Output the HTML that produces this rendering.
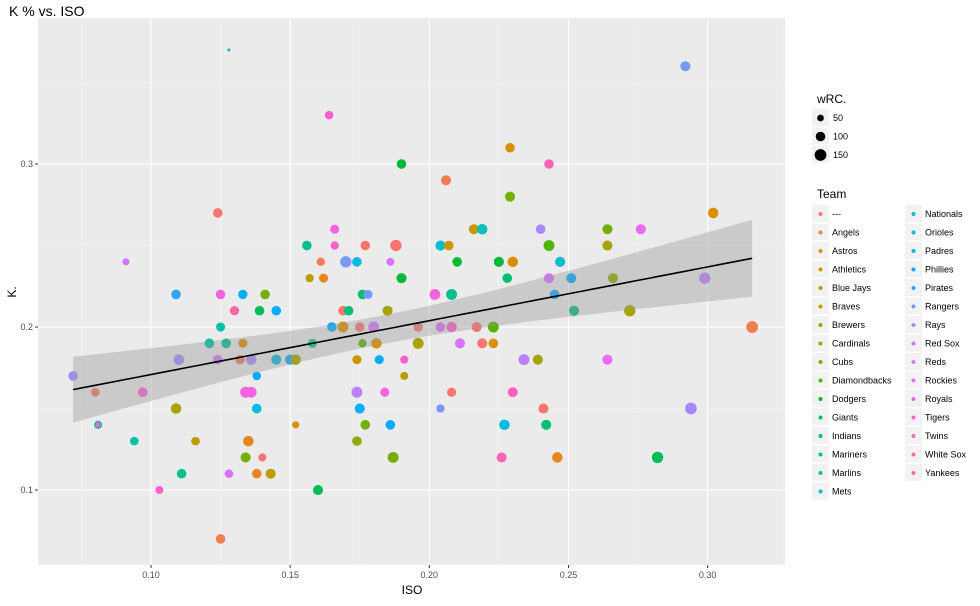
<!DOCTYPE html>
<html><head><meta charset="utf-8">
<style>
html,body{margin:0;padding:0;background:#fff;}
body{width:980px;height:601px;overflow:hidden;font-family:"Liberation Sans",Arial,sans-serif;}
svg text{font-family:"Liberation Sans",Arial,sans-serif;}
</style></head>
<body>
<svg id="chart" width="980" height="601" xmlns="http://www.w3.org/2000/svg">
  <text x="9" y="16" font-size="14" fill="#000">K % vs. ISO</text>
  <g id="panel"></g>
  <text x="412" y="594" font-size="12" text-anchor="middle" fill="#000">ISO</text>
  <text transform="translate(16,292) rotate(-90)" font-size="12" text-anchor="middle" fill="#000">K.</text>
  <g id="legend"></g>
</svg>
<script>
const teams = ["---","Angels","Astros","Athletics","Blue Jays","Braves","Brewers","Cardinals","Cubs","Diamondbacks","Dodgers","Giants","Indians","Mariners","Marlins","Mets","Nationals","Orioles","Padres","Phillies","Pirates","Rangers","Rays","Red Sox","Reds","Rockies","Royals","Tigers","Twins","White Sox","Yankees"];
const teamColors = ["#F8766D","#F17D50","#E7851E","#DA8F00","#CA9700","#BA9E00","#A6A400","#8FAA00","#75AF00","#52B500","#00B934","#00BC56","#00BE73","#00C08D","#00C0A5","#00C0BA","#00BDCD","#00BAE0","#00B4EF","#00ACFC","#34A2FF","#7997FF","#A58AFF","#BF80FF","#D575FE","#E76BF3","#F663DE","#FC61CD","#FF62B9","#FF66A6","#FC6E8A"];
const iso = [0.124,0.091,0.109,0.125,0.133,0.141,0.130,0.139,0.145,0.125,0.121,0.127,0.133,0.110,0.124,0.132,0.136,0.145,0.150,0.152,0.072,0.138,0.080,0.097,0.134,0.136,0.109,0.138,0.081,0.081,0.094,0.116,0.135,0.134,0.140,0.111,0.128,0.138,0.143,0.103,0.125,0.152,0.128,0.190,0.206,0.229,0.229,0.164,0.166,0.216,0.219,0.156,0.166,0.177,0.188,0.204,0.207,0.161,0.170,0.174,0.186,0.210,0.225,0.230,0.157,0.162,0.190,0.228,0.176,0.178,0.202,0.208,0.169,0.171,0.185,0.165,0.169,0.175,0.180,0.196,0.204,0.208,0.217,0.223,0.158,0.176,0.181,0.196,0.211,0.219,0.223,0.174,0.182,0.191,0.234,0.239,0.191,0.174,0.184,0.208,0.230,0.175,0.204,0.177,0.186,0.227,0.174,0.187,0.226,0.160,0.243,0.302,0.240,0.264,0.276,0.243,0.264,0.247,0.243,0.251,0.266,0.299,0.245,0.252,0.272,0.316,0.264,0.241,0.294,0.242,0.246,0.282,0.292];
const kpct = [0.27,0.24,0.22,0.22,0.22,0.22,0.21,0.21,0.21,0.20,0.19,0.19,0.19,0.18,0.18,0.18,0.18,0.18,0.18,0.18,0.17,0.17,0.16,0.16,0.16,0.16,0.15,0.15,0.14,0.14,0.13,0.13,0.13,0.12,0.12,0.11,0.11,0.11,0.11,0.10,0.07,0.14,0.37,0.30,0.29,0.31,0.28,0.33,0.26,0.26,0.26,0.25,0.25,0.25,0.25,0.25,0.25,0.24,0.24,0.24,0.24,0.24,0.24,0.24,0.23,0.23,0.23,0.23,0.22,0.22,0.22,0.22,0.21,0.21,0.21,0.20,0.20,0.20,0.20,0.20,0.20,0.20,0.20,0.20,0.19,0.19,0.19,0.19,0.19,0.19,0.19,0.18,0.18,0.18,0.18,0.18,0.17,0.16,0.16,0.16,0.16,0.15,0.15,0.14,0.14,0.14,0.13,0.12,0.12,0.10,0.30,0.27,0.26,0.26,0.26,0.25,0.25,0.24,0.23,0.23,0.23,0.23,0.22,0.21,0.21,0.20,0.18,0.15,0.15,0.14,0.12,0.12,0.36];
const wrc = [100,55,100,100,95,100,95,100,100,90,100,100,90,125,100,100,120,110,110,120,100,80,80,100,130,130,120,100,70,30,80,80,120,110,70,100,80,100,110,70,100,55,10,100,110,100,110,80,90,110,120,100,75,100,140,110,100,75,140,100,70,100,110,120,75,90,110,100,100,90,130,130,100,100,110,100,130,100,130,100,100,120,110,130,90,75,120,130,110,110,100,90,90,75,130,110,70,130,90,90,110,110,75,100,100,120,100,130,110,110,100,120,100,110,110,130,110,110,110,110,110,140,100,110,140,150,110,110,150,110,120,140,110];
const team = [0,24,20,26,19,8,29,11,19,14,14,13,3,22,24,0,22,17,19,6,22,19,0,27,26,26,6,17,14,26,14,5,2,8,0,13,24,2,5,27,1,3,16,10,1,3,8,27,26,4,15,13,27,0,0,16,4,1,21,17,24,10,10,3,5,2,10,12,12,21,26,13,0,12,6,19,3,0,24,0,25,27,0,9,13,9,3,6,24,0,3,4,19,27,23,6,5,23,26,0,28,19,21,8,19,17,7,8,28,11,28,3,22,8,25,9,6,16,24,19,7,23,19,12,6,1,25,0,22,12,2,11,21];
const xTicks = [0.10,0.15,0.20,0.25,0.30];
const xTickLabels = ["0.10","0.15","0.20","0.25","0.30"];
const yTicks = [0.1,0.2,0.3];
const yTickLabels = ["0.1","0.2","0.3"];
const sizeBreaks = [50,100,150];

const NS="http://www.w3.org/2000/svg";
const P={l:38,r:785,t:18,b:565};
const X0=0.0594,X1=0.3278,Y0=0.054,Y1=0.3896;
const sx=v=>P.l+(v-X0)/(X1-X0)*(P.r-P.l);
const sy=v=>P.b-(v-Y0)/(Y1-Y0)*(P.b-P.t);
const rad=w=>Math.max(1.2,0.48*Math.sqrt(w));
function mk(tag,attrs,parent){const e=document.createElementNS(NS,tag);for(const k in attrs)e.setAttribute(k,attrs[k]);parent.appendChild(e);return e;}
const panel=document.getElementById('panel');
const bg=mk('rect',{x:P.l,y:P.t,width:P.r-P.l,height:P.b-P.t,fill:'#EBEBEB'},panel);


// minor grid
for(let i=0;i<xTicks.length+1;i++){const v=(i===0?xTicks[0]-0.025:xTicks[i-1]+0.025);if(v<X0||v>X1)continue;
 const l=mk('line',{x1:sx(v),x2:sx(v),y1:P.t,y2:P.b,stroke:'#F5F5F5','stroke-width':0.6},panel);
 
 }
for(let i=0;i<yTicks.length+1;i++){const v=(i===0?yTicks[0]-0.05:yTicks[i-1]+0.05);if(v<Y0||v>Y1)continue;
 const l=mk('line',{y1:sy(v),y2:sy(v),x1:P.l,x2:P.r,stroke:'#F5F5F5','stroke-width':0.6},panel);
 
 }
const svg=document.getElementById('chart');
xTicks.forEach((v,i)=>{
 const l=mk('line',{x1:sx(v),x2:sx(v),y1:P.t,y2:P.b,stroke:'#fff','stroke-width':1.1},panel);
 
 
 const tk=mk('line',{x1:sx(v),x2:sx(v),y1:P.b,y2:P.b+3,stroke:'#333','stroke-width':1},svg);
 
 
 const t=mk('text',{x:sx(v),y:P.b+13,'font-size':9,'text-anchor':'middle',fill:'#4D4D4D'},svg);
 t.textContent=xTickLabels[i];
 
 
});
yTicks.forEach((v,i)=>{
 const l=mk('line',{y1:sy(v),y2:sy(v),x1:P.l,x2:P.r,stroke:'#fff','stroke-width':1.1},panel);
 
 
 const tk=mk('line',{x1:P.l-3,x2:P.l,y1:sy(v),y2:sy(v),stroke:'#333','stroke-width':1},svg);
 
 
 const t=mk('text',{x:P.l-5,y:sy(v)+3,'font-size':9,'text-anchor':'end',fill:'#4D4D4D'},svg);
 t.textContent=yTickLabels[i];
 
 
});
// points
iso.forEach((v,i)=>{
 const c=mk('circle',{cx:sx(v),cy:sy(kpct[i]),r:rad(wrc[i]),fill:teamColors[team[i]]},panel);
 
 
});
// regression + CI
(function(){
 const n=iso.length;let mx=0,my=0;for(let i=0;i<n;i++){mx+=iso[i];my+=kpct[i];}mx/=n;my/=n;
 let sxx=0,sxy=0;for(let i=0;i<n;i++){sxx+=(iso[i]-mx)**2;sxy+=(iso[i]-mx)*(kpct[i]-my);}
 const b=sxy/sxx,a=my-b*mx;let sse=0;for(let i=0;i<n;i++)sse+=(kpct[i]-a-b*iso[i])**2;
 const s=Math.sqrt(sse/(n-2)),tq=1.98;
 const xmin=Math.min(...iso),xmax=Math.max(...iso);
 const up=[],lo=[],ln=[];
 for(let k=0;k<=80;k++){const x=xmin+(xmax-xmin)*k/80;const y=a+b*x;const se=s*Math.sqrt(1/n+(x-mx)**2/sxx);
  up.push(sx(x)+','+sy(y+tq*se));lo.unshift(sx(x)+','+sy(y-tq*se));ln.push(sx(x)+','+sy(y));}
 const band=mk('polygon',{points:up.concat(lo).join(' '),fill:'#999','fill-opacity':0.4},panel);
 
 
 const line=mk('polyline',{points:ln.join(' '),fill:'none',stroke:'#000','stroke-width':1.6},panel);
 
 
})();
// legend
const lg=document.getElementById('legend');
const t1=mk('text',{x:817,y:103,'font-size':12,fill:'#000'},lg);t1.textContent='wRC.';


sizeBreaks.forEach((w,i)=>{const y=118+i*18.5;
 const k=mk('rect',{x:812,y:y-9,width:17,height:17,fill:'#F2F2F2'},lg);
 
 
 const c=mk('circle',{cx:820.5,cy:y,r:rad(w),fill:'#000'},lg);
 
 
 const t=mk('text',{x:833,y:y+3,'font-size':9,fill:'#000'},lg);t.textContent=w;
 
 
});
const t2=mk('text',{x:817,y:198,'font-size':12,fill:'#000'},lg);t2.textContent='Team';


teams.forEach((nm,i)=>{const col=i<16?0:1;const row=i<16?i:i-16;const x0=col?905:812;const y=214+row*18.5;
 const k=mk('rect',{x:x0,y:y-9,width:17,height:17,fill:'#F2F2F2'},lg);
 
 
 const c=mk('circle',{cx:x0+8.5,cy:y,r:2,fill:teamColors[i]},lg);
 
 
 const t=mk('text',{x:x0+20,y:y+3,'font-size':9,fill:'#000'},lg);t.textContent=nm;
 
 
});
</script>
</body></html>
